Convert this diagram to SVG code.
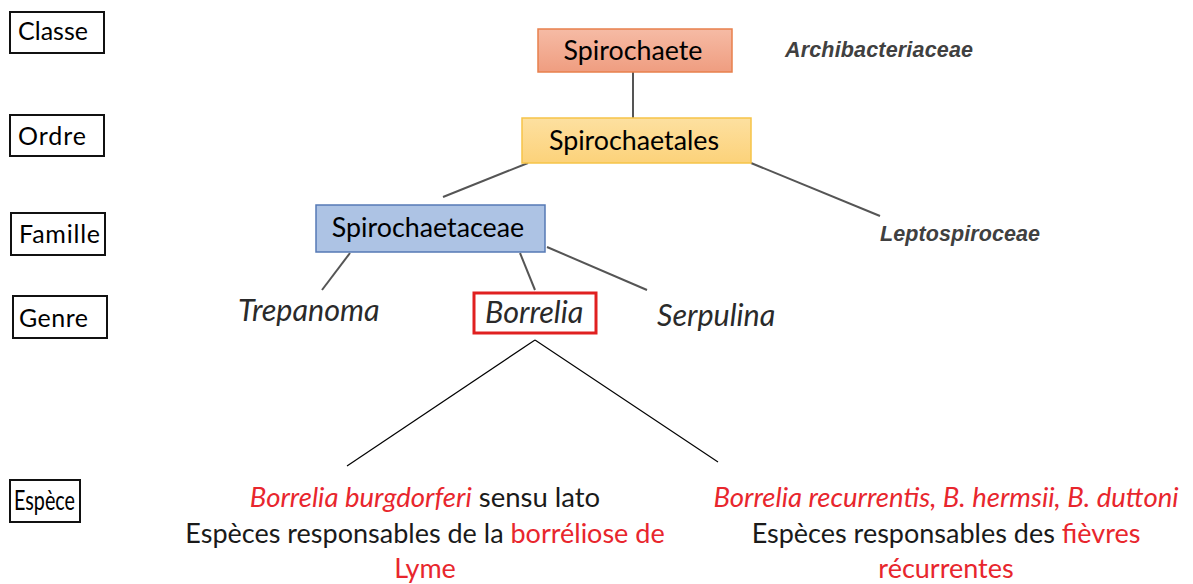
<svg xmlns="http://www.w3.org/2000/svg" width="1193" height="584" viewBox="0 0 1193 584">
<style>
text{font-family:Lato,"Open Sans","Liberation Sans",sans-serif;}
.lab{fill:#fff;stroke:#111;stroke-width:2;}
.labt{font-size:25px;fill:#000;}
.nt{font-size:26.8px;fill:#000;text-anchor:middle;}
.gen{font-size:30.5px;font-style:italic;fill:#2a2a2a;}
.ar{font-family:"Liberation Sans",Arial,sans-serif;font-style:italic;font-weight:bold;font-size:21.5px;fill:#404040;}
.con{stroke:#555;stroke-width:2;fill:none;}
.conb{stroke:#000;stroke-width:1.2;fill:none;}
.sp{font-size:27px;text-anchor:middle;fill:#1a1a1a;}
.sp1{font-size:27.5px;}
.red{fill:#e8262d;}
.it{font-style:italic;}
.esp{font-size:27px;}
</style>
<defs>
<linearGradient id="gs" x1="0" y1="0" x2="0" y2="1"><stop offset="0" stop-color="#f6bba5"/><stop offset="1" stop-color="#ef9d80"/></linearGradient>
<linearGradient id="go" x1="0" y1="0" x2="0" y2="1"><stop offset="0" stop-color="#fde0a0"/><stop offset="1" stop-color="#fcd27a"/></linearGradient>
</defs>
<g id="levels">
<g id="lvl-classe"><rect class="lab" x="10" y="12" width="94" height="41"/><text class="labt" x="18" y="40" textLength="70">Classe</text></g>
<g id="lvl-ordre"><rect class="lab" x="10" y="115" width="94" height="41"/><text class="labt" x="18" y="145" textLength="68">Ordre</text></g>
<g id="lvl-famille"><rect class="lab" x="11" y="213" width="94" height="42"/><text class="labt" x="19" y="243" textLength="81">Famille</text></g>
<g id="lvl-genre"><rect class="lab" x="13" y="296" width="94" height="42"/><text class="labt" x="19" y="327" textLength="69">Genre</text></g>
<g id="lvl-espece"><rect class="lab" x="10" y="480" width="70" height="42"/><text class="labt esp" x="14" y="510" textLength="61" lengthAdjust="spacingAndGlyphs">Espèce</text></g>
</g>
<g id="connectors">
<line class="con" x1="633" y1="72" x2="633" y2="118"/>
<line class="con" x1="528" y1="163" x2="443" y2="197"/>
<line class="con" x1="751" y1="163" x2="880" y2="216"/>
<line class="con" x1="350" y1="253" x2="322" y2="290"/>
<line class="con" x1="520" y1="253" x2="535" y2="290"/>
<line class="con" x1="547" y1="247" x2="647" y2="290"/>
<line class="conb" x1="535" y1="340" x2="347" y2="466"/>
<line class="conb" x1="535" y1="340" x2="718" y2="462"/>
</g>
<g id="n-spirochaete"><rect x="538" y="29" width="194" height="43" fill="url(#gs)" stroke="#e8804c" stroke-width="1.5"/><text class="nt" x="633" y="60">Spirochaete</text></g>
<g id="n-archi"><text class="ar" x="785" y="57" textLength="188">Archibacteriaceae</text></g>
<g id="n-spirochaetales"><rect x="522" y="118" width="229" height="45" fill="url(#go)" stroke="#f6c448" stroke-width="1.5"/><text class="nt" x="634" y="150">Spirochaetales</text></g>
<g id="n-lepto"><text class="ar" x="880" y="241" textLength="160">Leptospiroceae</text></g>
<g id="n-spirochaetaceae"><rect x="316" y="205" width="229" height="47" fill="#adc3e4" stroke="#5679b5" stroke-width="1.5"/><text class="nt" x="428" y="237">Spirochaetaceae</text></g>
<g id="n-trepanoma"><text class="gen" x="238" y="321">Trepanoma</text></g>
<g id="n-borrelia"><rect x="474" y="293" width="122" height="40" fill="#fff" stroke="#e02020" stroke-width="3"/><text class="gen" x="485" y="323">Borrelia</text></g>
<g id="n-serpulina"><text class="gen" x="657" y="326">Serpulina</text></g>
<g id="n-burgdorferi">
<text class="sp sp1" x="425" y="507"><tspan class="red it">Borrelia burgdorferi</tspan> sensu lato</text>
<text class="sp" x="425" y="543">Espèces responsables de la <tspan class="red">borréliose de</tspan></text>
<text class="sp red" x="425" y="578">Lyme</text>
</g>
<g id="n-recurrentis">
<text class="sp sp1 red it" x="946" y="507">Borrelia recurrentis, B. hermsii, B. duttoni</text>
<text class="sp" x="946" y="543">Espèces responsables des <tspan class="red">fièvres</tspan></text>
<text class="sp red" x="946" y="578">récurrentes</text>
</g>
</svg>
